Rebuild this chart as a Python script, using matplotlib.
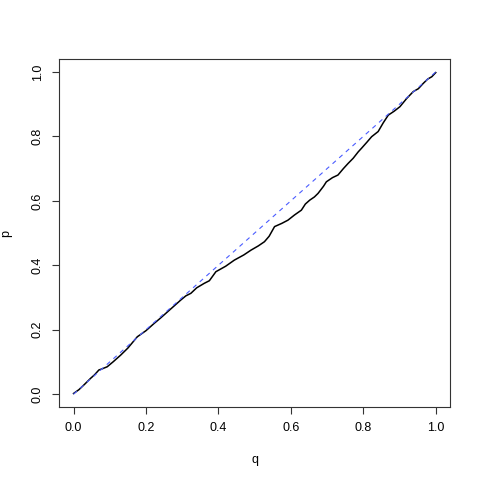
import matplotlib
matplotlib.use("Agg")
import matplotlib.pyplot as plt

plt.rcParams["font.family"] = ["Liberation Sans", "DejaVu Sans"]

q = [0.000, 0.015, 0.030, 0.047, 0.058, 0.070, 0.080, 0.093, 0.110, 0.130,
     0.150, 0.176, 0.200, 0.222, 0.240, 0.260, 0.280, 0.296, 0.310, 0.324,
     0.340, 0.361, 0.375, 0.393, 0.420, 0.444, 0.470, 0.490, 0.510, 0.527,
     0.540, 0.555, 0.575, 0.592, 0.610, 0.629, 0.640, 0.652, 0.665, 0.675,
     0.690, 0.698, 0.715, 0.730, 0.745, 0.758, 0.772, 0.786, 0.795, 0.810,
     0.823, 0.841, 0.855, 0.869, 0.885, 0.901, 0.920, 0.938, 0.952, 0.966,
     0.978, 0.989, 1.000]
p = [0.002, 0.014, 0.030, 0.049, 0.060, 0.075, 0.079, 0.085, 0.101, 0.121,
     0.143, 0.178, 0.197, 0.219, 0.236, 0.256, 0.276, 0.292, 0.305, 0.313,
     0.330, 0.344, 0.352, 0.380, 0.397, 0.416, 0.432, 0.447, 0.460, 0.473,
     0.490, 0.520, 0.530, 0.540, 0.556, 0.571, 0.590, 0.602, 0.612, 0.623,
     0.645, 0.659, 0.672, 0.680, 0.700, 0.716, 0.732, 0.752, 0.763, 0.782,
     0.799, 0.815, 0.842, 0.866, 0.878, 0.892, 0.918, 0.939, 0.948, 0.965,
     0.978, 0.985, 0.998]

fig = plt.figure(figsize=(4.8, 4.8), dpi=100)
ax = fig.add_axes([0.123, 0.152, 0.815, 0.725])

ax.plot(q, p, color="black", linewidth=1.1)
ax.plot([0, 1], [0, 1], color="#4a5cff", linewidth=0.8, dashes=(4, 4))

ax.set_xlim(-0.04, 1.04)
ax.set_ylim(-0.04, 1.04)
ticks = [0.0, 0.2, 0.4, 0.6, 0.8, 1.0]
labels = ["0.0", "0.2", "0.4", "0.6", "0.8", "1.0"]
ax.set_xticks(ticks, labels)
ax.set_yticks(ticks, labels)
for lab in ax.get_yticklabels():
    lab.set_rotation(90)
    lab.set_va("center")
ax.tick_params(length=5, width=0.8, labelsize=9, pad=6, color="#333333")
for s in ax.spines.values():
    s.set_linewidth(0.8)
    s.set_color("#333333")

ax.set_xlabel("q", fontsize=9, labelpad=14)
ax.set_ylabel("p", fontsize=9, labelpad=14)

fig.savefig("out.png", dpi=100)
